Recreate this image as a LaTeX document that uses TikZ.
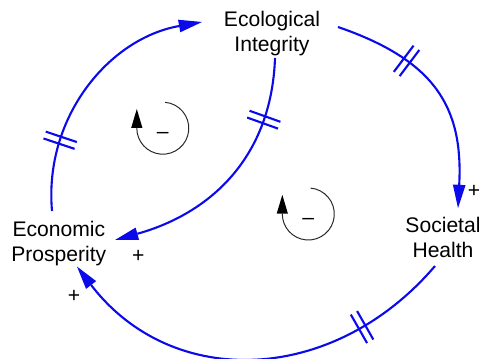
\documentclass[tikz,border=0pt]{standalone}
\usepackage{fontspec}
\setmainfont{Liberation Sans}
\usetikzlibrary{
	arrows.meta,
	decorations.markings
}

\definecolor{linkblue}{RGB}{10,10,235}
\definecolor{loopgray}{RGB}{40,40,40}

\tikzset{
	var/.style={font=\fontsize{15}{17.8}\selectfont, align=center, inner sep=3.33pt},
	link/.style={draw=linkblue, line width=1.5pt, -{Triangle[length=0.58cm, width=0.32cm, line width=0pt, fill=linkblue]}},
	delay/.style={postaction={decorate, decoration={markings, mark=at position #1 with {
		\draw[linkblue, line width=1.5pt, -] (-0.09,-0.41) -- (-0.09,0.41) (0.09,-0.41) -- (0.09,0.41);
	}}}},
	polarity/.style={font=\fontsize{15}{17.8}\selectfont, inner sep=1pt},
	loopline/.style={draw=loopgray, line width=0.7pt, -{Triangle[length=0.47cm, width=0.28cm, line width=0pt, fill=black]}},
	loopsign/.style={font=\fontsize{15}{17.8}\selectfont, inner sep=0pt}
}

\begin{document}
\begin{tikzpicture}

\useasboundingbox (0,0) rectangle (11.975,8.975);

% Loop marker: centre x, centre y, node name
\def\balloop#1#2#3{
    \draw[loopline] (#1,#2) ++(85:0.65) arc[start angle=85, end angle=-180, radius=0.65] -- ++(0,0.48);
    \node[loopsign] (#3) at (#1,#2-0.19) {–};
}

% Variables
\node[var] (eco) at (6.8,8.128) {Ecological\\Integrity};
\node[var] (econ) at (1.47,2.895) {Economic\\Prosperity};
\node[var] (soc) at (11.075,3.05) {Societal\\Health};

% Causal links, all with delay marks
\draw[link, delay=0.27] ([shift={(-0.17,0.805)}]econ.center) to[out=95, in=190] ([shift={(-1.75,0.297)}]eco.center);
\draw[link, delay=0.32] ([shift={(1.65,0.172)}]eco.center) to[out=-19, in=87, looseness=1.2] ([shift={(0.375,0.725)}]soc.center);
\draw[link, delay=0.23] ([shift={(-0.2,-0.725)}]soc.center) to[out=229.5, in=-52.5, looseness=1.12] ([shift={(0.455,-0.585)}]econ.center);
\draw[link, delay=0.24] ([shift={(0.075,-0.603)}]eco.center) to[out=-92, in=15.6, looseness=1.05] ([shift={(1.405,0.08)}]econ.center);

% Link polarities
\node[polarity] (pos1) at (11.85,4.18) {+};
\node[polarity] (pos2) at (3.458,2.575) {+};
\node[polarity] (pos3) at (1.85,1.575) {+};

% Balancing loops
\balloop{4.07}{5.77}{loopA}
\balloop{7.708}{3.625}{loopB}

\end{tikzpicture}
\end{document}
